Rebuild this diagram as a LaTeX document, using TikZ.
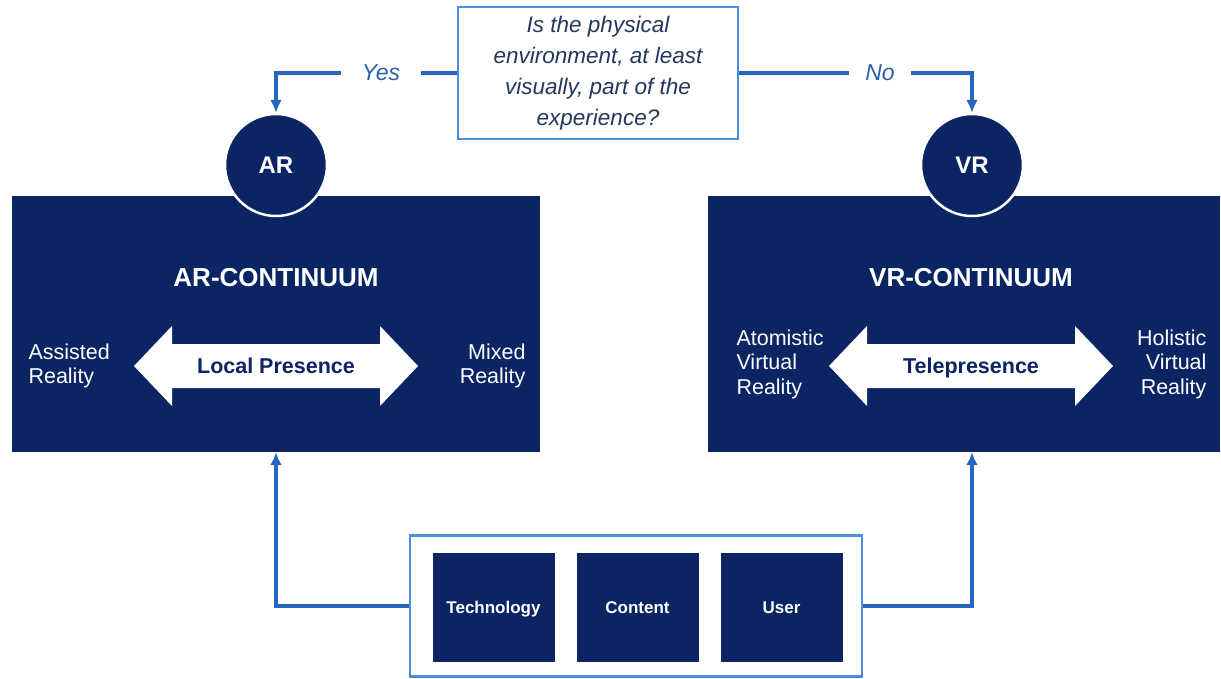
\documentclass[tikz,border=0pt]{standalone}
\usepackage{fontspec}
\setmainfont{Liberation Sans}
\usetikzlibrary{arrows.meta,calc,positioning}
\definecolor{xrNavy}{HTML}{0B2463}
\definecolor{xrBlue}{HTML}{2766C0}
\definecolor{xrFrame}{HTML}{4A8FDB}
\definecolor{xrInk}{HTML}{24375E}
\definecolor{xrLabel}{HTML}{2E5FA8}

\begin{document}
\begin{tikzpicture}[x=1pt,y=-1pt,>={Latex[length=13pt,width=12pt]},line join=miter]
\useasboundingbox[fill=white] (0,0) rectangle (1221,678);
\tikzset{panel/.style={fill=xrNavy,inner sep=0pt,minimum height=256pt},
  hub/.style={circle,fill=xrNavy,draw=white,line width=2.5pt,minimum size=102pt,inner sep=0pt,text=white,font=\bfseries\fontsize{24}{26}\selectfont},
  frame/.style={draw=xrFrame,line width=2.2pt,inner sep=0pt},
  cell/.style={fill=xrNavy,minimum width=122pt,minimum height=109pt,inner sep=0pt,text height=12pt,text depth=0pt,text=white,font=\bfseries\fontsize{17}{19}\selectfont},
  link/.style={draw=xrBlue,line width=3.4pt},
  answer/.style={text=xrLabel,font=\itshape\fontsize{23}{26}\selectfont},
  heading/.style={text=white,font=\bfseries\fontsize{26}{28}\selectfont},
  side/.style={text=white,font=\fontsize{21.5}{24.5}\selectfont},
  middle/.style={text=xrNavy,text height=15pt,text depth=0pt,font=\bfseries\fontsize{21.5}{24}\selectfont}}
% question and the two answers
\node[frame,minimum width=280pt,minimum height=132pt,align=center,text=xrInk,font=\itshape\fontsize{22.5}{31}\selectfont] (question) at (598,73) {Is the physical\\environment, at least\\visually, part of the\\experience?};
\node[answer,inner xsep=21pt] (yes) at (381,73) {Yes};
\node[answer,inner xsep=16pt] (no) at (880,73) {No};
% the two continua
\node[panel,minimum width=528pt] (arpanel) at (276,324) {};
\node[panel,minimum width=512pt] (vrpanel) at (964,324) {};
\node[hub] (ar) at (276,165) {AR};
\node[hub] (vr) at (972,165) {VR};
\node[heading] (arhead) at (276,278) {AR-CONTINUUM};
\node[heading] (vrhead) at (971,278) {VR-CONTINUUM};
\foreach \cx in {276,971}
  \path[fill=white,shift={(\cx,366)}] (-142,0) -- (-104,-40) -- (-104,-22) -- (104,-22) -- (104,-40) -- (142,0) -- (104,40) -- (104,22) -- (-104,22) -- (-104,40) -- cycle;
\node[middle] (local) at (276,366) {Local Presence};
\node[middle] (tele) at (971,366) {Telepresence};
\node[side,anchor=west,align=left] (assisted) at (25,366) {Assisted\\Reality};
\node[side,anchor=east,align=right] (mixed) at (529,366) {Mixed\\Reality};
\node[side,anchor=west,align=left] (atomistic) at (733,364) {Atomistic\\Virtual\\Reality};
\node[side,anchor=east,align=right] (holistic) at (1210,364) {Holistic\\Virtual\\Reality};
% factors
\node[frame,minimum width=452pt,minimum height=141pt] (factors) at (636,606) {};
\node[cell] (tech) at (493.5,607.5) {Technology};
\node[cell] (content) at (637.5,607.5) {Content};
\node[cell] (user) at (781.5,607.5) {User};
% connectors
\draw[link] (question.west) -- (yes.east);
\draw[link,->] (yes.west) -| (ar.north);
\draw[link] (question.east) -- (no.west);
\draw[link,->] (no.east) -| (vr.north);
\draw[link,->] (factors.west) -| (arpanel.south);
\draw[link,->] (factors.east) -| (vr |- vrpanel.south);
\end{tikzpicture}
\end{document}
